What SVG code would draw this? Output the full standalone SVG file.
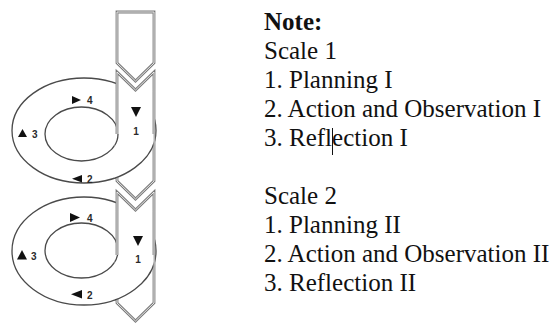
<svg xmlns="http://www.w3.org/2000/svg" width="556" height="323" viewBox="0 0 556 323">
<style>
.ring{fill:none;stroke:#4a4a4a;stroke-width:1.3}
.arr{fill:#fff;stroke:#7a7a7a;stroke-width:2.8;stroke-linejoin:miter}
.arrIn{fill:none;stroke:#f2f2f2;stroke-width:0.9;stroke-linejoin:miter}
.tri{fill:#111}
.num{font-family:"Liberation Sans",Arial,sans-serif;font-size:10px;font-weight:bold;fill:#2a2a2a}
.note{font-family:"Liberation Serif","Times New Roman",serif;font-size:25px;fill:#111}
</style>
<defs>
<clipPath id="front1"><rect x="114.5" y="134" width="39" height="60"/></clipPath>
<clipPath id="front2"><rect x="114.5" y="255" width="39" height="60"/></clipPath>
</defs>

<g id="cycle1-ring">
<ellipse class="ring" cx="84" cy="130.5" rx="72" ry="52.5"/>
<ellipse class="ring" cx="81.5" cy="134" rx="36.5" ry="27"/>
</g>
<g id="cycle2-ring">
<ellipse class="ring" cx="84" cy="251" rx="72" ry="54"/>
<ellipse class="ring" cx="81.5" cy="250.5" rx="36.5" ry="27.5"/>
</g>

<g id="arrow-start">
<path class="arr" d="M117,12 H154 V63 L135.5,81 L117,63 Z"/>
<path class="arrIn" d="M117,12 H154 V63 L135.5,81 L117,63 Z"/>
</g>
<g id="arrow-scale1">
<path class="arr" d="M117,72 L135.5,90 L154,72 V181 L135.5,199 L117,181 Z"/>
<path class="arrIn" d="M117,72 L135.5,90 L154,72 V181 L135.5,199 L117,181 Z"/>
</g>
<g id="arrow-scale2">
<path class="arr" d="M117,192 L135.5,210 L154,192 V303 L135.5,321 L117,303 Z"/>
<path class="arrIn" d="M117,192 L135.5,210 L154,192 V303 L135.5,321 L117,303 Z"/>
</g>

<g id="cycle1-front" clip-path="url(#front1)">
<ellipse cx="84" cy="130.5" rx="72" ry="52.5" fill="#fff" stroke="none"/>
<ellipse class="ring" cx="84" cy="130.5" rx="72" ry="52.5"/>
<ellipse class="ring" cx="81.5" cy="134" rx="36.5" ry="27"/>
</g>
<g id="cycle2-front" clip-path="url(#front2)">
<ellipse cx="84" cy="251" rx="72" ry="54" fill="#fff" stroke="none"/>
<ellipse class="ring" cx="84" cy="251" rx="72" ry="54"/>
<ellipse class="ring" cx="81.5" cy="250.5" rx="36.5" ry="27.5"/>
</g>

<g id="cycle1-labels">
<polygon class="tri" points="131,107 141,107 136,117"/>
<text class="num" x="136" y="135" text-anchor="middle">1</text>
<polygon class="tri" points="82,175 82,182.5 72,178.8"/>
<text class="num" x="87" y="183">2</text>
<polygon class="tri" points="18,137 27,137 22.5,129"/>
<text class="num" x="32" y="138">3</text>
<polygon class="tri" points="72,96 72,104 81,100"/>
<text class="num" x="87" y="104">4</text>
</g>
<g id="cycle2-labels">
<polygon class="tri" points="133,236 143,236 138,246"/>
<text class="num" x="138" y="263" text-anchor="middle">1</text>
<polygon class="tri" points="82,290 82,298.5 71,294.3"/>
<text class="num" x="87" y="299">2</text>
<polygon class="tri" points="17,259.5 27,259.5 22,250"/>
<text class="num" x="31" y="260">3</text>
<polygon class="tri" points="70,213 70,222 80,217.5"/>
<text class="num" x="87" y="222">4</text>
</g>

<g id="note">
<text class="note" x="264" y="30" font-weight="bold">Note:</text>
<text class="note" x="264" y="59">Scale 1</text>
<text class="note" x="264" y="88">1. Planning I</text>
<text class="note" x="264" y="117">2. Action and Observation I</text>
<text class="note" x="264" y="146">3. Reflection I</text>
<line x1="332.5" y1="128" x2="332.5" y2="155" stroke="#111" stroke-width="1"/>
<text class="note" x="264" y="204">Scale 2</text>
<text class="note" x="264" y="233">1. Planning II</text>
<text class="note" x="264" y="262">2. Action and Observation II</text>
<text class="note" x="264" y="291">3. Reflection II</text>
</g>
</svg>
